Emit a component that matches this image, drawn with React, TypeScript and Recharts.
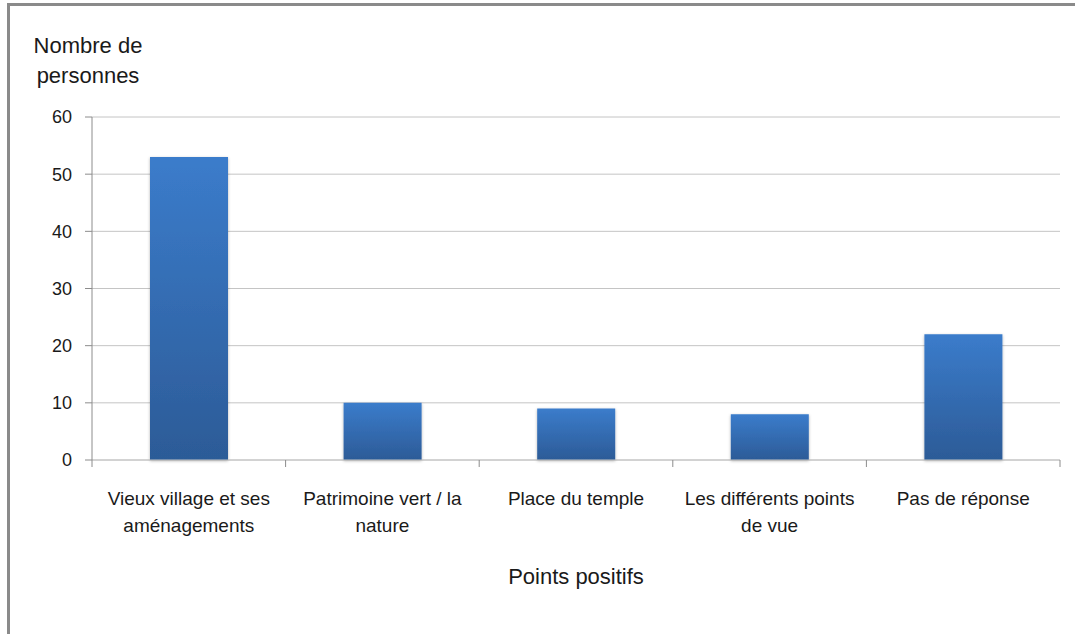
import React from "react";
import { BarChart, Bar, XAxis, YAxis, CartesianGrid } from "recharts";

const categories = [
  "Vieux village et ses\naménagements",
  "Patrimoine vert / la\nnature",
  "Place du temple",
  "Les différents points\nde vue",
  "Pas de réponse",
];
const values = [53, 10, 9, 8, 22];
const yTicks = [0, 10, 20, 30, 40, 50, 60];
const yTitleLines = ["Nombre de", "personnes"];
const xTitle = "Points positifs";

const data = categories.map((c, i) => ({ name: c, value: values[i] }));

const FONT = "'Liberation Sans', Arial, sans-serif";
const AXIS = "#8C8C8C";
const GRID = "#C4C4C4";
const BAND_TICK = 7;

const CatTick = (props: any) => {
  const { x, y, payload, index, visibleTicksCount } = props;
  const half = payload && typeof payload.offset === "number" ? payload.offset : 0;
  const lines = String(payload.value).split("\n");
  const isLast = index === (visibleTicksCount ?? categories.length) - 1;
  return (
    <g>
      <line x1={x - half} x2={x - half} y1={y} y2={y + BAND_TICK} stroke={AXIS} />
      {isLast && <line x1={x + half} x2={x + half} y1={y} y2={y + BAND_TICK} stroke={AXIS} />}
      <text x={x} y={y} textAnchor="middle" fontFamily={FONT} fontSize={19} fill="#1a1a1a">
        {lines.map((l, i) => (
          <tspan key={i} x={x} dy={i === 0 ? 45 : 27}>
            {l}
          </tspan>
        ))}
      </text>
    </g>
  );
};

export default function App() {
  return (
    <div style={{ position: "fixed", left: 0, top: 0, width: 1075, height: 634, background: "#fff", overflow: "hidden" }}>
      <div
        style={{
          position: "absolute",
          left: 7,
          top: 3,
          width: 1075,
          height: 640,
          borderTop: "3px solid #8A8A8A",
          borderLeft: "3px solid #8A8A8A",
          boxSizing: "border-box",
        }}
      />
      <div style={{ position: "absolute", left: 0, top: 0 }}>
        <BarChart
          width={1075}
          height={634}
          data={data}
          margin={{ top: 117, right: 15, left: 52, bottom: 173 }}
        >
          <defs>
            <linearGradient id="barGrad" x1="0" y1="0" x2="0" y2="1">
              <stop offset="0%" stopColor="#3B7CCB" />
              <stop offset="100%" stopColor="#2C5B97" />
            </linearGradient>
            <filter id="barShadow" x="-10%" y="-10%" width="120%" height="120%">
              <feDropShadow dx="0" dy="1" stdDeviation="1.5" floodColor="#000" floodOpacity="0.3" />
            </filter>
          </defs>
          <CartesianGrid vertical={false} stroke={GRID} />
          <XAxis
            dataKey="name"
            height={1}
            tickLine={false}
            tickSize={0}
            tickMargin={0}
            axisLine={{ stroke: GRID }}
            tick={<CatTick />}
            interval={0}
          />
          <YAxis
            width={40}
            domain={[0, 60]}
            ticks={yTicks}
            axisLine={{ stroke: AXIS }}
            tickLine={{ stroke: AXIS }}
            tickSize={7}
            tickMargin={13}
            tick={{ fontFamily: FONT, fontSize: 18, fill: "#1a1a1a" }}
          />
          <Bar dataKey="value" fill="url(#barGrad)" barSize={78} isAnimationActive={false} style={{ filter: "url(#barShadow)" }} />
        </BarChart>
      </div>
      <div
        style={{
          position: "absolute",
          left: 20,
          top: 31,
          width: 136,
          textAlign: "center",
          fontFamily: FONT,
          fontSize: 22,
          lineHeight: "30px",
          color: "#1a1a1a",
        }}
      >
        {yTitleLines.map((l, i) => (
          <div key={i}>{l}</div>
        ))}
      </div>
      <div
        style={{
          position: "absolute",
          left: 92,
          width: 968,
          top: 564,
          textAlign: "center",
          fontFamily: FONT,
          fontSize: 22,
          color: "#1a1a1a",
        }}
      >
        {xTitle}
      </div>
    </div>
  );
}
